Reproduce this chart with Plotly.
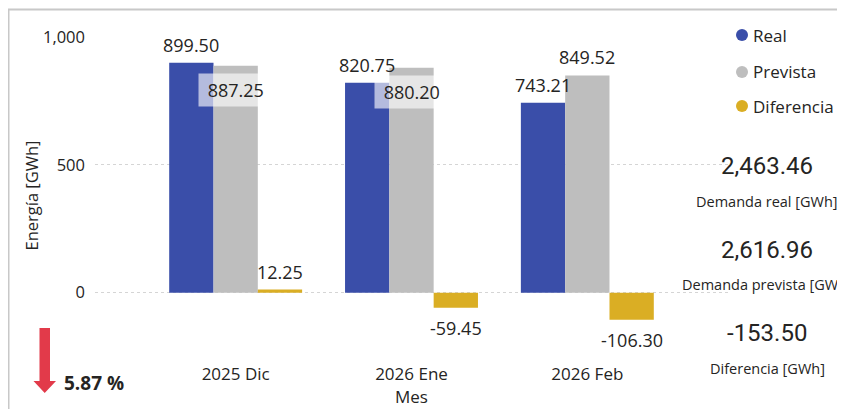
import plotly.graph_objects as go

# ---------------- data ----------------
months = ["2025 Dic", "2026 Ene", "2026 Feb"]
real = [899.50, 820.75, 743.21]
prevista = [887.25, 880.20, 849.52]
diferencia = [12.25, -59.45, -106.30]
series_names = ["Real", "Prevista", "Diferencia"]
y_ticks = [0, 500, 1000]
kpi_values = [2463.46, 2616.96, -153.50]
kpi_labels = ["Demanda real [GWh]", "Demanda prevista [GWh]", "Diferencia [GWh]"]
pct_change = 5.87

# ---------------- style ----------------
COLORS = ["#3A4EA9", "#BEBEBE", "#DAAE24"]
FONT = "Open Sans"
TXT = "#252423"
OFF = 8                      # page body margin of the html page
W, H = 845 - OFF, 409 - OFF
L, R, T, B = 87, 720, 29, 346  # plot area in figure pixels
BARGAP = 0.244

def px(xr):
    """screen x (reference pixels) -> paper x"""
    return (xr - OFF - L) / (R - L)

def py(yr):
    """screen y (reference pixels) -> paper y"""
    return (B - (yr - OFF)) / (B - T)

fig = go.Figure()
for name, vals, col in zip(series_names, [real, prevista, diferencia], COLORS):
    fig.add_bar(x=months, y=vals, name=name, marker_color=col,
                marker_line_width=0, showlegend=False, hoverinfo="skip")

annotations = []
w = (1 - BARGAP) / 3
fmt = lambda v: f"{v:,.2f}"
lab_font = dict(family=FONT, size=18, color=TXT)

for i in range(len(months)):
    annotations.append(dict(x=i - w, y=real[i], xref="x", yref="y", text=fmt(real[i]),
                            showarrow=False, yanchor="bottom", yshift=4, font=lab_font))
    if prevista[i] - real[i] < 80:
        annotations.append(dict(x=i, y=prevista[i], xref="x", yref="y",
                                text="\u00a0" + fmt(prevista[i]) + "\u00a0",
                                showarrow=False, yanchor="top", yshift=-7,
                                bgcolor="rgba(255,255,255,0.62)", borderpad=4, font=lab_font))
    else:
        annotations.append(dict(x=i, y=prevista[i], xref="x", yref="y", text=fmt(prevista[i]),
                                showarrow=False, yanchor="bottom", yshift=4, font=lab_font))
    d = diferencia[i]
    annotations.append(dict(x=i + w, y=d, xref="x", yref="y", text=fmt(d),
                            showarrow=False, yanchor="bottom" if d >= 0 else "top",
                            yshift=4 if d >= 0 else -6, font=lab_font))

shapes = []
# legend (circle + name)
for name, col, yr in zip(series_names, COLORS, [35, 72, 106]):
    shapes.append(dict(type="circle", xref="paper", yref="paper",
                       x0=px(736), x1=px(748), y0=py(yr + 6), y1=py(yr - 6),
                       fillcolor=col, line=dict(width=0)))
    annotations.append(dict(xref="paper", yref="paper", x=px(751), y=py(yr),
                            xanchor="left", yanchor="middle", showarrow=False,
                            text=name, font=dict(family=FONT, size=17, color=TXT)))

# KPI cards
for val, lab, yv, yl in zip(kpi_values, kpi_labels, [166, 250, 333], [201, 284, 368]):
    annotations.append(dict(xref="paper", yref="paper", x=px(767), y=py(yv),
                            xanchor="center", yanchor="middle", showarrow=False,
                            text=f"{val:,.2f}",
                            font=dict(family="Roboto", size=24, color=TXT)))
    annotations.append(dict(xref="paper", yref="paper", x=px(767), y=py(yl),
                            xanchor="center", yanchor="middle", showarrow=False,
                            text=lab, font=dict(family=FONT, size=14.5, color=TXT)))

# percentage change
annotations.append(dict(xref="paper", yref="paper", x=px(62), y=py(383),
                        xanchor="left", yanchor="middle", showarrow=False,
                        text=f"<b>{pct_change:.2f} %</b>",
                        font=dict(family=FONT, size=19, color=TXT)))

arrow_pts = [(39.5, 328), (50, 328), (50, 381), (56, 381), (44.7, 393), (33.5, 381), (39.5, 381)]
arrow_path = "M " + " L ".join(f"{px(a):.5f},{py(b):.5f}" for a, b in arrow_pts) + " Z"

shapes += [
    dict(type="path", xref="paper", yref="paper", path=arrow_path,
         fillcolor="#E23A4A", line=dict(width=0)),
    dict(type="rect", xref="paper", yref="paper", x0=px(8.5), x1=px(850), y0=py(414), y1=py(9.5),
         line=dict(color="#C8C8C8", width=2), fillcolor="rgba(0,0,0,0)"),
]

fig.update_layout(
    width=W, height=H,
    margin=dict(l=L, r=W - R, t=T, b=H - B, autoexpand=False),
    barmode="group", bargap=BARGAP, bargroupgap=0,
    plot_bgcolor="white", paper_bgcolor="white",
    font=dict(family=FONT, color=TXT),
    annotations=annotations, shapes=shapes,
    showlegend=False,
    xaxis=dict(type="category", range=[-0.8, 2.8], showgrid=False, showline=False,
               zeroline=False, ticks="", tickfont=dict(size=17, color=TXT),
               ticklabelstandoff=8, automargin=False,
               title=dict(text="Mes", font=dict(size=17, color=TXT), standoff=4)),
    yaxis=dict(range=[-240, 1000], tickvals=y_ticks, tickformat=",",
               showgrid=True, gridcolor="#D5D5D5", griddash="dot", gridwidth=1,
               zeroline=False, showline=False, ticks="",
               tickfont=dict(size=16.5, color=TXT), ticklabelstandoff=9, automargin=False,
               title=dict(text="Energía [GWh]", font=dict(size=16.5, color=TXT), standoff=0)),
)

fig.write_html("out.html")
